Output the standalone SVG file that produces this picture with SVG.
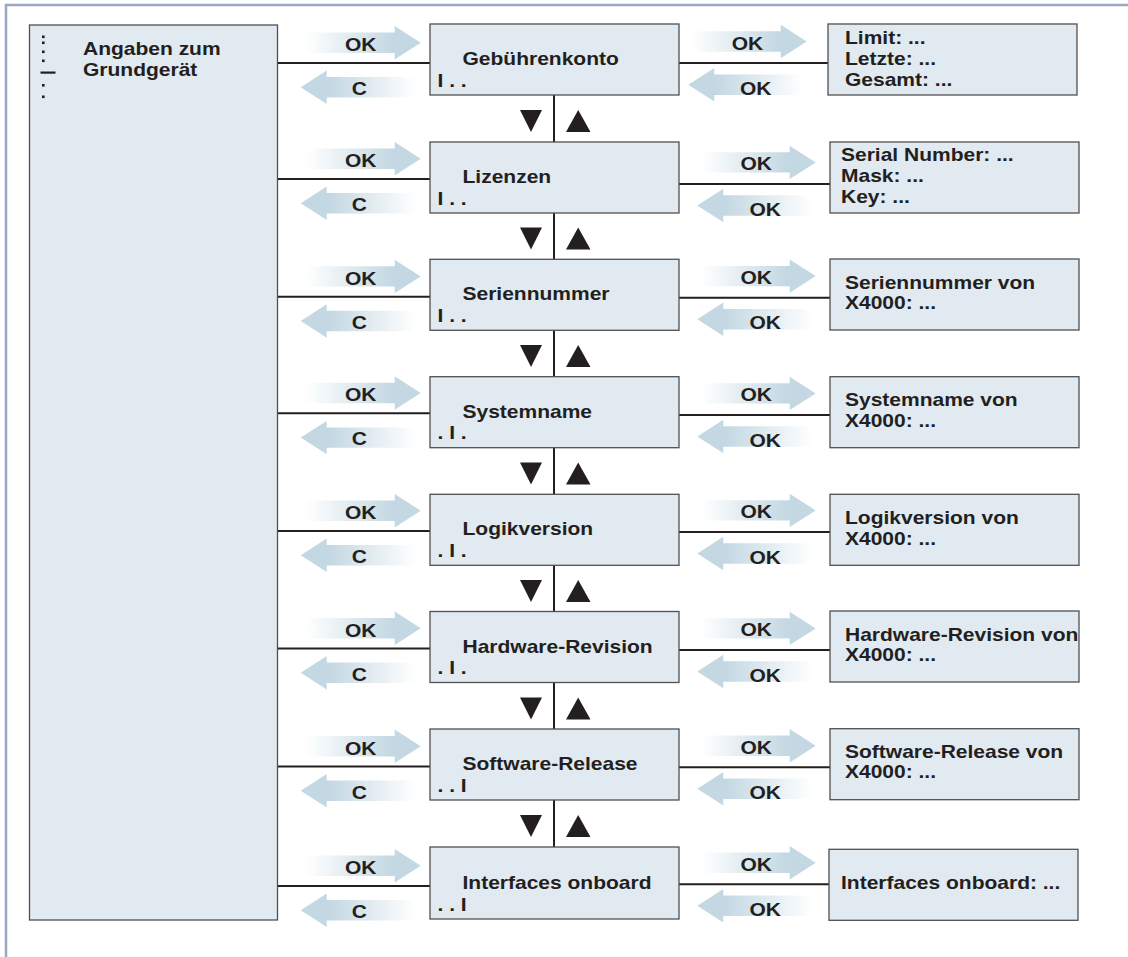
<svg xmlns="http://www.w3.org/2000/svg" width="1128" height="957" viewBox="0 0 1128 957">
<style>
.t{font-family:"Liberation Sans",Arial,sans-serif;font-weight:bold;font-size:18px;fill:#231f20}
.box{fill:#e1e9f1;stroke:#505050;stroke-width:1.3}
.ln{stroke:#231f20;stroke-width:2;fill:none}
.tri{fill:#231f20}
.frame{stroke:#9ba9c0;stroke-width:2.5;fill:none}
</style>
<defs>
<linearGradient id="g" x1="0" y1="0" x2="1" y2="0">
<stop offset="0" stop-color="#ffffff"/>
<stop offset="0.75" stop-color="#c4d8e3"/>
<stop offset="1" stop-color="#c4d8e3"/>
</linearGradient>
<path id="arr" d="M-115,-10.2 H-26 V-16.7 L0,0 L-26,16.7 V10.2 H-115 Z" fill="url(#g)"/>
<path id="dn" d="M0,0 H22 L11,22 Z"/>
<path id="up" d="M0,22 H24.5 L12.2,0 Z"/>
</defs>
<rect width="1128" height="957" fill="#ffffff"/>
<path class="frame" d="M6,957 V5 H1128"/>

<g id="connectors">
<path class="ln" d="M277.5,63 H430 M679,63 H828
M277.5,179 H430 M679,184 H830
M277.5,296.7 H430 M679,297.7 H830
M277.5,413.3 H430 M679,415 H830
M277.5,531 H430 M679,532 H830
M277.5,648.5 H430 M679,650 H830
M277.5,766.5 H430 M679,767.3 H830
M277.5,886 H430 M679,884.3 H829"/>
<path class="ln" d="M554,95 V142 M554,213 V259.3 M554,330.3 V376.7 M554,447.7 V494.3 M554,565.3 V611.5 M554,682.5 V729 M554,800 V847"/>
<g class="tri">
<use href="#dn" x="520" y="110"/><use href="#up" x="566" y="110"/>
<use href="#dn" x="520" y="227.5"/><use href="#up" x="566" y="227.5"/>
<use href="#dn" x="520" y="345"/><use href="#up" x="566" y="345"/>
<use href="#dn" x="520" y="462.5"/><use href="#up" x="566" y="462.5"/>
<use href="#dn" x="520" y="580"/><use href="#up" x="566" y="580"/>
<use href="#dn" x="520" y="697.5"/><use href="#up" x="566" y="697.5"/>
<use href="#dn" x="520" y="815"/><use href="#up" x="566" y="815"/>
</g>
<use href="#arr" transform="translate(420.7,42.7)"/>
<use href="#arr" transform="translate(300.7,87.3) scale(-1,1)"/>
<use href="#arr" transform="translate(420.7,158.7)"/>
<use href="#arr" transform="translate(300.7,203.3) scale(-1,1)"/>
<use href="#arr" transform="translate(420.7,276.4)"/>
<use href="#arr" transform="translate(300.7,321) scale(-1,1)"/>
<use href="#arr" transform="translate(420.7,393)"/>
<use href="#arr" transform="translate(300.7,437.6) scale(-1,1)"/>
<use href="#arr" transform="translate(420.7,510.7)"/>
<use href="#arr" transform="translate(300.7,555.3) scale(-1,1)"/>
<use href="#arr" transform="translate(420.7,628.2)"/>
<use href="#arr" transform="translate(300.7,672.8) scale(-1,1)"/>
<use href="#arr" transform="translate(420.7,746.2)"/>
<use href="#arr" transform="translate(300.7,790.8) scale(-1,1)"/>
<use href="#arr" transform="translate(420.7,865.7)"/>
<use href="#arr" transform="translate(300.7,910.3) scale(-1,1)"/>
<use href="#arr" transform="translate(806.7,41.5)"/>
<use href="#arr" transform="translate(688.3,84.8) scale(-1,1)"/>
<use href="#arr" transform="translate(815.7,162.4)"/>
<use href="#arr" transform="translate(697.3,205.5) scale(-1,1)"/>
<use href="#arr" transform="translate(815.7,276.1)"/>
<use href="#arr" transform="translate(697.3,319.2) scale(-1,1)"/>
<use href="#arr" transform="translate(815.7,393.4)"/>
<use href="#arr" transform="translate(697.3,436.5) scale(-1,1)"/>
<use href="#arr" transform="translate(815.7,510.4)"/>
<use href="#arr" transform="translate(697.3,553.5) scale(-1,1)"/>
<use href="#arr" transform="translate(815.7,628.4)"/>
<use href="#arr" transform="translate(697.3,671.5) scale(-1,1)"/>
<use href="#arr" transform="translate(815.7,745.7)"/>
<use href="#arr" transform="translate(697.3,788.8) scale(-1,1)"/>
<use href="#arr" transform="translate(815.7,862.7)"/>
<use href="#arr" transform="translate(697.3,905.8) scale(-1,1)"/>
<text class="t" transform="matrix(1.167 0 0 1 345 51)">OK</text>
<text class="t" transform="matrix(1.167 0 0 1 351.7 95)">C</text>
<text class="t" transform="matrix(1.167 0 0 1 345 167)">OK</text>
<text class="t" transform="matrix(1.167 0 0 1 351.7 211)">C</text>
<text class="t" transform="matrix(1.167 0 0 1 345 284.7)">OK</text>
<text class="t" transform="matrix(1.167 0 0 1 351.7 328.7)">C</text>
<text class="t" transform="matrix(1.167 0 0 1 345 401.3)">OK</text>
<text class="t" transform="matrix(1.167 0 0 1 351.7 445.3)">C</text>
<text class="t" transform="matrix(1.167 0 0 1 345 519)">OK</text>
<text class="t" transform="matrix(1.167 0 0 1 351.7 563)">C</text>
<text class="t" transform="matrix(1.167 0 0 1 345 636.5)">OK</text>
<text class="t" transform="matrix(1.167 0 0 1 351.7 680.5)">C</text>
<text class="t" transform="matrix(1.167 0 0 1 345 754.5)">OK</text>
<text class="t" transform="matrix(1.167 0 0 1 351.7 798.5)">C</text>
<text class="t" transform="matrix(1.167 0 0 1 345 874.3)">OK</text>
<text class="t" transform="matrix(1.167 0 0 1 351.7 918)">C</text>
<text class="t" transform="matrix(1.167 0 0 1 731.7 50.3)">OK</text>
<text class="t" transform="matrix(1.167 0 0 1 740 95.3)">OK</text>
<text class="t" transform="matrix(1.167 0 0 1 740.5 170.3)">OK</text>
<text class="t" transform="matrix(1.167 0 0 1 749.5 215.6)">OK</text>
<text class="t" transform="matrix(1.167 0 0 1 740.5 284)">OK</text>
<text class="t" transform="matrix(1.167 0 0 1 749.5 329.3)">OK</text>
<text class="t" transform="matrix(1.167 0 0 1 740.5 401.3)">OK</text>
<text class="t" transform="matrix(1.167 0 0 1 749.5 446.6)">OK</text>
<text class="t" transform="matrix(1.167 0 0 1 740.5 518.3)">OK</text>
<text class="t" transform="matrix(1.167 0 0 1 749.5 563.6)">OK</text>
<text class="t" transform="matrix(1.167 0 0 1 740.5 636.3)">OK</text>
<text class="t" transform="matrix(1.167 0 0 1 749.5 681.6)">OK</text>
<text class="t" transform="matrix(1.167 0 0 1 740.5 753.6)">OK</text>
<text class="t" transform="matrix(1.167 0 0 1 749.5 798.9)">OK</text>
<text class="t" transform="matrix(1.167 0 0 1 740.5 870.8)">OK</text>
<text class="t" transform="matrix(1.167 0 0 1 749.5 916)">OK</text>
</g>

<g id="n-grundgeraet">
<rect class="box" x="29.5" y="25" width="248" height="895"/>
<g class="tri">
<rect x="42" y="35.5" width="2.6" height="2.6"/>
<rect x="42" y="41.5" width="2.6" height="2.6"/>
<rect x="42" y="50.5" width="2.6" height="2.6"/>
<rect x="42" y="59.5" width="2.6" height="2.6"/>
<rect x="40.5" y="71.5" width="15" height="2.2"/>
<rect x="42" y="84" width="2.6" height="2.6"/>
<rect x="42" y="95.5" width="2.6" height="2.6"/>
</g>
<text class="t" transform="matrix(1.167 0 0 1 83 55)">Angaben zum</text>
<text class="t" transform="matrix(1.167 0 0 1 83 76)">Grundgerät</text>
</g>

<g id="n-gebuehrenkonto">
<rect class="box" x="430" y="24" width="249" height="71"/>
<text class="t" transform="matrix(1.167 0 0 1 462.5 65)">Gebührenkonto</text>
<text class="t" transform="matrix(1.167 0 0 1 437.5 86.5)">I . .</text>
</g>
<g id="n-gebuehrenkonto-werte">
<rect class="box" x="828" y="24" width="249" height="71"/>
<text class="t" transform="matrix(1.167 0 0 1 845 44)">Limit: ...<tspan x="0" dy="21">Letzte: ...</tspan><tspan x="0" dy="21">Gesamt: ...</tspan></text>
</g>

<g id="n-lizenzen">
<rect class="box" x="430" y="142" width="249" height="71"/>
<text class="t" transform="matrix(1.167 0 0 1 462.5 183)">Lizenzen</text>
<text class="t" transform="matrix(1.167 0 0 1 437.5 204.5)">I . .</text>
</g>
<g id="n-lizenzen-werte">
<rect class="box" x="830" y="142" width="249" height="71"/>
<text class="t" transform="matrix(1.167 0 0 1 841 161)">Serial Number: ...<tspan x="0" dy="21">Mask: ...</tspan><tspan x="0" dy="21">Key: ...</tspan></text>
</g>

<g id="n-seriennummer">
<rect class="box" x="430" y="259.3" width="249" height="71"/>
<text class="t" transform="matrix(1.167 0 0 1 462.5 300.3)">Seriennummer</text>
<text class="t" transform="matrix(1.167 0 0 1 437.5 321.8)">I . .</text>
</g>
<g id="n-seriennummer-wert">
<rect class="box" x="830" y="259" width="249" height="71"/>
<text class="t" transform="matrix(1.167 0 0 1 845 288.5)">Seriennummer von<tspan x="0" dy="21">X4000: ...</tspan></text>
</g>

<g id="n-systemname">
<rect class="box" x="430" y="376.7" width="249" height="71"/>
<text class="t" transform="matrix(1.167 0 0 1 462.5 417.7)">Systemname</text>
<text class="t" transform="matrix(1.167 0 0 1 437.5 439.2)">. I .</text>
</g>
<g id="n-systemname-wert">
<rect class="box" x="830" y="376.7" width="249" height="71"/>
<text class="t" transform="matrix(1.167 0 0 1 845 406.2)">Systemname von<tspan x="0" dy="21">X4000: ...</tspan></text>
</g>

<g id="n-logikversion">
<rect class="box" x="430" y="494.3" width="249" height="71"/>
<text class="t" transform="matrix(1.167 0 0 1 462.5 535.3)">Logikversion</text>
<text class="t" transform="matrix(1.167 0 0 1 437.5 556.8)">. I .</text>
</g>
<g id="n-logikversion-wert">
<rect class="box" x="830" y="494.3" width="249" height="71"/>
<text class="t" transform="matrix(1.167 0 0 1 845 523.8)">Logikversion von<tspan x="0" dy="21">X4000: ...</tspan></text>
</g>

<g id="n-hardware">
<rect class="box" x="430" y="611.5" width="249" height="71"/>
<text class="t" transform="matrix(1.167 0 0 1 462.5 652.5)">Hardware-Revision</text>
<text class="t" transform="matrix(1.167 0 0 1 437.5 674)">. I .</text>
</g>
<g id="n-hardware-wert">
<rect class="box" x="830" y="611" width="249" height="71"/>
<text class="t" transform="matrix(1.167 0 0 1 845 640.5)">Hardware-Revision von<tspan x="0" dy="21">X4000: ...</tspan></text>
</g>

<g id="n-software">
<rect class="box" x="430" y="729" width="249" height="71"/>
<text class="t" transform="matrix(1.167 0 0 1 462.5 770)">Software-Release</text>
<text class="t" transform="matrix(1.167 0 0 1 437.5 791.5)">. . I</text>
</g>
<g id="n-software-wert">
<rect class="box" x="830" y="728.7" width="249" height="71"/>
<text class="t" transform="matrix(1.167 0 0 1 845 757.5)">Software-Release von<tspan x="0" dy="21">X4000: ...</tspan></text>
</g>

<g id="n-interfaces">
<rect class="box" x="430" y="847" width="249" height="72"/>
<text class="t" transform="matrix(1.167 0 0 1 462.5 889)">Interfaces onboard</text>
<text class="t" transform="matrix(1.167 0 0 1 437.5 911)">. . I</text>
</g>
<g id="n-interfaces-wert">
<rect class="box" x="829" y="849.3" width="249" height="71"/>
<text class="t" transform="matrix(1.167 0 0 1 841 889.3)">Interfaces onboard: ...</text>
</g>
</svg>
